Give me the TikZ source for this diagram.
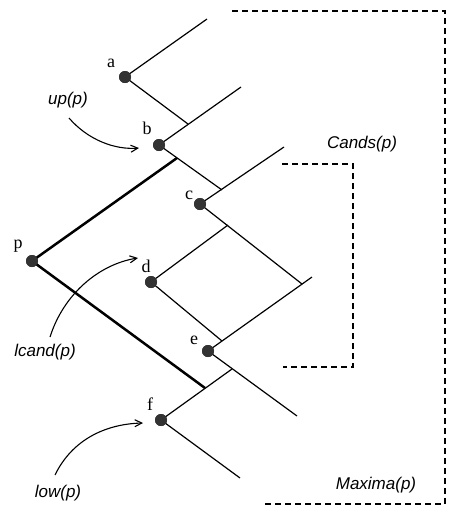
\documentclass[tikz,border=0pt]{standalone}
\usepackage{fontspec}
\setmainfont{Liberation Serif}
\newfontfamily\lblfont{Liberation Sans}
\usetikzlibrary{arrows.meta}
\tikzset{
  dot/.style={circle,fill=black!80,inner sep=0pt,minimum size=12pt},
  thin/.style={line width=1.2pt},
  thickline/.style={line width=2.5pt},
  letter/.style={font=\fontsize{18}{18}\selectfont,inner sep=0pt},
  lbl/.style={font=\lblfont\itshape\fontsize{17}{17}\selectfont,inner sep=0pt},
  box/.style={line width=1.2pt,dash pattern=on 6pt off 4pt},
  pointer/.style={line width=1.1pt,-{Straight Barb[length=7pt,width=7pt]}}
}
\begin{document}
\begin{tikzpicture}[x=1pt,y=-1pt]
\useasboundingbox (0,0) rectangle (448,509);
% dots
\node[dot] (a) at (125,77) {};
\node[dot] (b) at (159,145) {};
\node[dot] (c) at (200,204) {};
\node[dot] (d) at (151,282) {};
\node[dot] (e) at (208,351) {};
\node[dot] (f) at (161,420) {};
\node[dot] (p) at (32,261) {};
% end / junction coordinates
\coordinate (aU) at (207,19);
\coordinate (ab) at (188,124);
\coordinate (bU) at (241,87);
\coordinate (bc) at (222,190);
\coordinate (pT) at (177,158);
\coordinate (cU) at (284,147);
\coordinate (cd) at (228,225);
\coordinate (ce) at (302,284);
\coordinate (de) at (222,341);
\coordinate (eU) at (312,277);
\coordinate (ef) at (232,369);
\coordinate (eD) at (297,416);
\coordinate (pB) at (205,388);
\coordinate (fD) at (240,478);
% tree lines
\draw[thin] (a.center) -- (aU);
\draw[thin] (a.center) -- (ab);
\draw[thin] (b.center) -- (bU);
\draw[thin] (b.center) -- (bc);
\draw[thin] (c.center) -- (cU);
\draw[thin] (c.center) -- (ce);
\draw[thin] (d.center) -- (cd);
\draw[thin] (d.center) -- (de);
\draw[thin] (e.center) -- (eU);
\draw[thin] (e.center) -- (eD);
\draw[thin] (f.center) -- (ef);
\draw[thin] (f.center) -- (fD);
\draw[thickline] (p.center) -- (pT);
\draw[thickline] (p.center) -- (pB);
% redraw dots on top
\foreach \n in {a,b,c,d,e,f,p} \node[dot] at (\n) {};
% letters
\node[letter] (la) at (111,63) {a};
\node[letter] (lb) at (147,128) {b};
\node[letter] (lc) at (189,195) {c};
\node[letter] (ld) at (146,266) {d};
\node[letter] (le) at (194,340) {e};
\node[letter] (lf) at (150,404) {f};
\node[letter] (lp) at (18,246) {p};
% labels
\node[lbl] (up) at (68,100) {up(p)};
\node[lbl] (cands) at (362,144) {Cands(p)};
\node[lbl] (lcand) at (45,352) {lcand(p)};
\node[lbl] (low) at (58,493) {low(p)};
\node[lbl] (maxima) at (376,485) {Maxima(p)};
% pointers
\coordinate (s1) at (69,118);
\coordinate (t1) at (139,148);
\coordinate (s2) at (50,337);
\coordinate (t2) at (138,258);
\coordinate (s3) at (55,475);
\coordinate (t3) at (143,423);
\draw[pointer] (s1) .. controls (88,140) and (115,150) .. (t1);
\draw[pointer] (s2) .. controls (64,293) and (100,264) .. (t2);
\draw[pointer] (s3) .. controls (72,440) and (105,424) .. (t3);
% dashed boxes
\coordinate (m1) at (232,11);
\coordinate (m2) at (445,11);
\coordinate (m3) at (445,504);
\coordinate (m4) at (265,504);
\draw[box] (m1) -- (m2) -- (m3) -- (m4);
\coordinate (k1) at (282,164);
\coordinate (k2) at (353,164);
\coordinate (k3) at (353,367);
\coordinate (k4) at (283,367);
\draw[box] (k1) -- (k2) -- (k3) -- (k4);
\end{tikzpicture}
\end{document}
